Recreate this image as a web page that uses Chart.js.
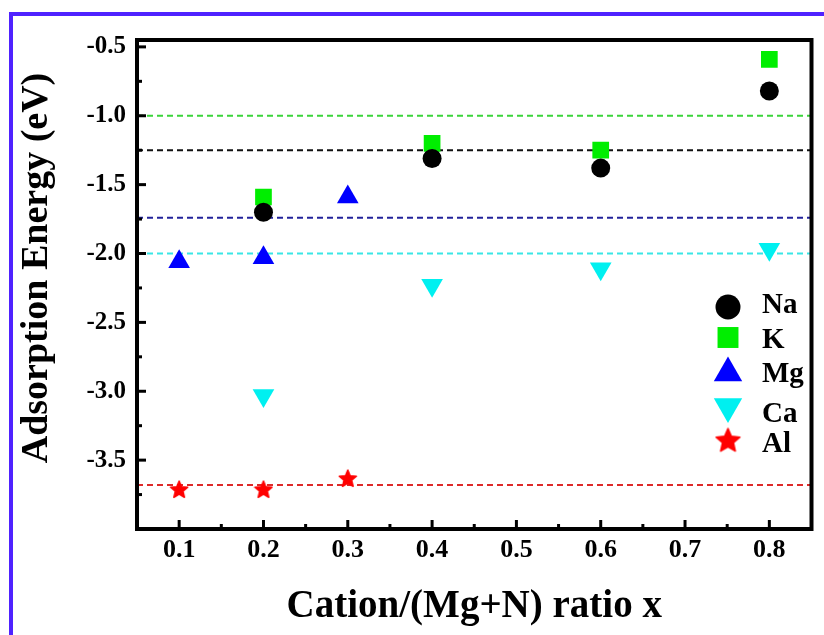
<!DOCTYPE html>
<html>
<head>
<meta charset="utf-8">
<script src="https://cdn.jsdelivr.net/npm/chart.js@4.4.0/dist/chart.umd.min.js"></script>
<style>
html, body { margin: 0; padding: 0; background: #fff; }
#wrap { position: relative; width: 824px; height: 635px; overflow: hidden; }
#frame { position: absolute; left: 9px; top: 12px; width: 900px; height: 700px;
  border-left: 4px solid #4f22ff; border-top: 4px solid #4f22ff; }
canvas { position: absolute; left: 0; top: 0; }
</style>
</head>
<body>
<div id="wrap"><div id="frame"></div><canvas id="c" width="824" height="635"></canvas></div>
<script>
// values
const naX = [0.2, 0.4, 0.6, 0.8];
const naY = [-1.70, -1.31, -1.38, -0.82];
const kX = [0.2, 0.4, 0.6, 0.8];
const kY = [-1.59, -1.20, -1.25, -0.59];
const mgX = [0.1, 0.2, 0.3];
const mgY = [-2.06, -2.03, -1.59];
const caX = [0.2, 0.4, 0.6, 0.8];
const caY = [-3.03, -2.23, -2.11, -1.97];
const alX = [0.1, 0.2, 0.3];
const alY = [-3.71, -3.71, -3.63];

// dashed reference levels
const refY = [-1.0, -1.25, -1.74, -2.0, -3.68];
const refColors = ['#3ad43a', '#111111', '#22229a', '#3ae6e6', '#dd2a2a'];

const xTicks = [0.1, 0.2, 0.3, 0.4, 0.5, 0.6, 0.7, 0.8];
const yTicks = [-3.5, -3.0, -2.5, -2.0, -1.5, -1.0, -0.5];
const xMin = 0.05, xMax = 0.85, yMin = -4.0, yMax = -0.45;

const FONT = "'Liberation Serif', 'Times New Roman', serif";

function pts(xs, ys) { return xs.map((x, i) => ({ x: x, y: ys[i] })); }

function makeStar(size, color) {
  const c = document.createElement('canvas');
  c.width = c.height = size;
  const g = c.getContext('2d');
  const R = size / 2, r = R * 0.5;
  g.fillStyle = color;
  g.strokeStyle = color;
  g.lineJoin = 'round';
  g.lineWidth = 1.5;
  g.beginPath();
  for (let i = 0; i < 10; i++) {
    const a = -Math.PI / 2 + i * Math.PI / 5;
    const rr = (i % 2 ? r : R) - 1;
    g.lineTo(R + rr * Math.cos(a), R + 1 + rr * Math.sin(a));
  }
  g.closePath();
  g.fill();
  g.stroke();
  return c;
}
const star = makeStar(20, '#ff0000');
const bigStar = makeStar(27, '#ff0000');

const series = [
  { label: 'Na', data: pts(naX, naY), color: '#000000', style: 'circle', radius: 9.5, rotation: 0, lr: 12.5 },
  { label: 'K', data: pts(kX, kY), color: '#00ee00', style: 'rect', radius: 11.8, rotation: 0, lr: 14.8 },
  { label: 'Mg', data: pts(mgX, mgY), color: '#0000ff', style: 'triangle', radius: 12.5, rotation: 0, lr: 16.4 },
  { label: 'Ca', data: pts(caX, caY), color: '#00f0f0', style: 'triangle', radius: 12.5, rotation: 180, lr: 16.4 },
  { label: 'Al', data: pts(alX, alY), color: '#ff0000', style: star, radius: 10, rotation: 0, lr: 13, big: bigStar }
];

const datasets = series.map(s => ({
  type: 'scatter',
  label: s.label,
  data: s.data,
  pointStyle: s.style,
  pointRadius: s.radius,
  pointRotation: s.rotation,
  backgroundColor: s.color,
  borderColor: s.color,
  borderWidth: 0,
  order: 0
}));

refY.forEach((v, i) => {
  datasets.push({
    type: 'line',
    label: 'ref' + i,
    data: [{ x: xMin, y: v }, { x: xMax, y: v }],
    borderColor: refColors[i],
    borderWidth: 2,
    borderDash: [6, 4],
    pointRadius: 0,
    fill: false,
    order: 1
  });
});

function line(ctx, x1, y1, x2, y2) {
  ctx.beginPath(); ctx.moveTo(x1, y1); ctx.lineTo(x2, y2); ctx.stroke();
}

function marker(ctx, s, x, y) {
  ctx.save();
  ctx.fillStyle = s.color;
  const r = s.lr;
  if (s.style === 'circle') {
    ctx.beginPath(); ctx.arc(x, y, r, 0, Math.PI * 2); ctx.fill();
  } else if (s.style === 'rect') {
    const h = r * Math.SQRT1_2;
    ctx.fillRect(x - h, y - h, 2 * h, 2 * h);
  } else if (s.style === 'triangle') {
    ctx.translate(x, y);
    ctx.rotate(s.rotation * Math.PI / 180);
    ctx.beginPath();
    for (let k = 0; k < 3; k++) {
      const a = k * 2 * Math.PI / 3;
      ctx.lineTo(Math.sin(a) * r, -Math.cos(a) * r);
    }
    ctx.closePath(); ctx.fill();
  } else {
    ctx.drawImage(s.big, x - s.big.width / 2, y - s.big.height / 2);
  }
  ctx.restore();
}

const decor = {
  id: 'decor',
  afterDatasetsDraw(chart) {
    const { ctx, chartArea: a, scales: { x, y } } = chart;
    ctx.save();
    ctx.strokeStyle = '#000';
    // inward ticks
    ctx.lineWidth = 3;
    xTicks.forEach((v, i) => {
      const px = x.getPixelForValue(v);
      line(ctx, px, a.bottom, px, a.bottom - 9);
      if (i < xTicks.length - 1) {
        const pm = x.getPixelForValue((v + xTicks[i + 1]) / 2);
        line(ctx, pm, a.bottom, pm, a.bottom - 5);
      }
    });
    yTicks.forEach(v => {
      const py = y.getPixelForValue(v);
      line(ctx, a.left, py, a.left + 9, py);
      const pm = y.getPixelForValue(v - 0.25);
      line(ctx, a.left, pm, a.left + 5, pm);
    });
    // frame
    ctx.lineWidth = 4;
    ctx.strokeRect(a.left, a.top, a.right - a.left, a.bottom - a.top);

    // legend
    ctx.fillStyle = '#000';
    ctx.font = 'bold 29px ' + FONT;
    ctx.textBaseline = 'alphabetic';
    ctx.textAlign = 'left';
    const my = [307, 337.5, 373, 406.5, 440];
    const ty = [313, 348, 382, 422, 452];
    series.forEach((s, i) => {
      marker(ctx, s, 728, my[i]);
      ctx.fillText(s.label, 762, ty[i]);
    });

    // axis titles
    ctx.textAlign = 'center';
    ctx.font = 'bold 39px ' + FONT;
    ctx.fillText('Cation/(Mg+N) ratio x', (a.left + a.right) / 2, 617);
    ctx.save();
    ctx.translate(47, 268);
    ctx.rotate(-Math.PI / 2);
    ctx.font = 'bold 38px ' + FONT;
    ctx.fillText('Adsorption Energy (eV)', 0, 0);
    ctx.restore();
    ctx.restore();
  }
};

new Chart(document.getElementById('c').getContext('2d'), {
  data: { datasets: datasets },
  options: {
    responsive: false,
    animation: false,
    events: [],
    layout: { padding: { left: 0, top: 40, right: 5, bottom: 0 } },
    plugins: { legend: { display: false }, tooltip: { enabled: false } },
    scales: {
      x: {
        type: 'linear',
        min: xMin, max: xMax,
        grid: { display: false, drawTicks: false },
        border: { display: false },
        afterBuildTicks: s => { s.ticks = xTicks.map(v => ({ value: v })); },
        afterFit: s => { s.height = 106; },
        ticks: {
          color: '#000',
          padding: 6,
          font: { family: FONT, size: 26, weight: 'bold' },
          callback: v => v.toFixed(1)
        }
      },
      y: {
        type: 'linear',
        min: yMin, max: yMax,
        grid: { display: false, drawTicks: false },
        border: { display: false },
        afterBuildTicks: s => { s.ticks = yTicks.map(v => ({ value: v })); },
        afterFit: s => { s.width = 137; },
        ticks: {
          color: '#000',
          padding: 11,
          font: { family: FONT, size: 25, weight: 'bold' },
          callback: v => v.toFixed(1)
        }
      }
    }
  },
  plugins: [decor]
});
</script>
</body>
</html>
